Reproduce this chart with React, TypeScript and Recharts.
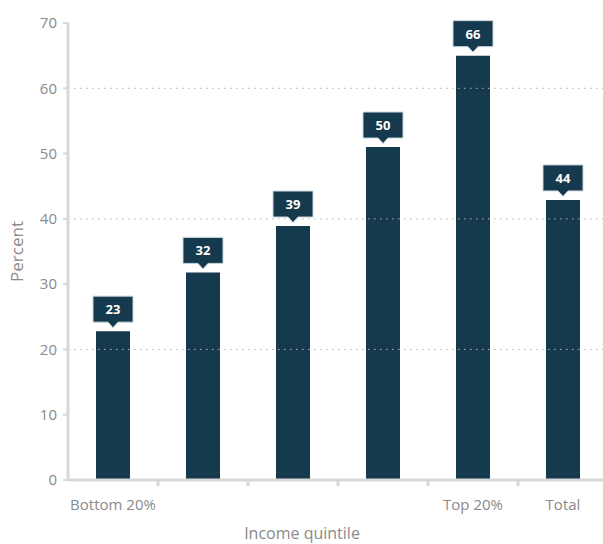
import { BarChart, Bar, XAxis, YAxis, ReferenceLine, LabelList } from 'recharts';

const categories = ['Bottom 20%', 'Second 20%', 'Middle 20%', 'Fourth 20%', 'Top 20%', 'Total'];
const tickLabels = ['Bottom 20%', '', '', '', 'Top 20%', 'Total'];
const barValues = [22.8, 31.8, 38.9, 51, 65, 42.9];
const labelValues = ['23', '32', '39', '50', '66', '44'];
const yTicks = [0, 10, 20, 30, 40, 50, 60, 70];
const gridValues = [20, 40, 60];

const data = categories.map((name, i) => ({
  name,
  tick: tickLabels[i],
  value: barValues[i],
  label: labelValues[i],
}));

const NAVY = '#15394d';
const AXIS = '#d8d8d8';
const TEXT = '#8a8a8a';
const FONT = '"Open Sans", Lato, sans-serif';

/* eslint-disable @typescript-eslint/no-explicit-any */
function ValueTag(props: any) {
  const { x, y, width, index } = props;
  const cx = x + width / 2;
  const boxW = 40;
  const boxH = 26;
  const bottom = y - 9;
  const top = bottom - boxH;
  return (
    <g>
      <path
        d={`M${cx - boxW / 2},${top} h${boxW} v${boxH} h${-(boxW / 2 - 5)} l-5,5.5 l-5,-5.5 h${-(boxW / 2 - 5)} Z`}
        fill={NAVY}
        stroke="#c9d6dd"
        strokeWidth={1}
      />
      <text
        x={cx}
        y={top + boxH / 2 + 5}
        textAnchor="middle"
        fill="#fff"
        fontSize={13}
        fontWeight={700}
        fontFamily={FONT}
      >
        {labelValues[index]}
      </text>
    </g>
  );
}

function CategoryTick(props: any) {
  const { x, y, payload, index } = props;
  const half = payload.offset || 0;
  const axisY = y - 16;
  return (
    <g>
      {index < categories.length - 1 && (
        <line x1={x + half} x2={x + half} y1={axisY} y2={axisY + 6} stroke={AXIS} strokeWidth={3} />
      )}
      <text x={x} y={y + 14} textAnchor="middle" fill={TEXT} fontSize={15} fontFamily={FONT}>
        {tickLabels[index]}
      </text>
    </g>
  );
}
/* eslint-enable @typescript-eslint/no-explicit-any */

export default function App() {
  return (
    <div style={{ position: 'absolute', left: 0, top: 0, width: 603, height: 544, overflow: 'hidden', background: '#fff' }}>
      <BarChart width={610} height={544} data={data} margin={{ top: 23, right: 2, left: 0, bottom: 14 }}>
        {gridValues.map((v) => (
          <ReferenceLine key={v} y={v} stroke="#b5b5b5" strokeDasharray="1.5 4.5" strokeWidth={1} />
        ))}
        <XAxis
          dataKey="name"
          height={50}
          axisLine={{ stroke: AXIS, strokeWidth: 3 }}
          tickLine={false}
          tickSize={6}
          tickMargin={10}
          interval={0}
          tick={<CategoryTick />}
          label={{
            value: 'Income quintile',
            position: 'bottom',
            offset: -2,
            dx: -36,
            fill: TEXT,
            fontSize: 16,
            fontFamily: FONT,
          }}
        />
        <YAxis
          width={68}
          domain={[0, 70]}
          ticks={yTicks}
          interval={0}
          axisLine={{ stroke: AXIS, strokeWidth: 3 }}
          tickLine={{ stroke: AXIS, strokeWidth: 2 }}
          tickSize={5}
          tickMargin={6}
          tick={{ fill: TEXT, fontSize: 15, fontFamily: FONT }}
          label={{
            value: 'Percent',
            angle: -90,
            position: 'insideLeft',
            offset: 17,
            fill: TEXT,
            fontSize: 17,
            fontFamily: FONT,
            style: { textAnchor: 'middle' },
          }}
        />
        <Bar dataKey="value" fill={NAVY} barSize={34} isAnimationActive={false}>
          <LabelList dataKey="label" content={<ValueTag />} />
        </Bar>
      </BarChart>
    </div>
  );
}
